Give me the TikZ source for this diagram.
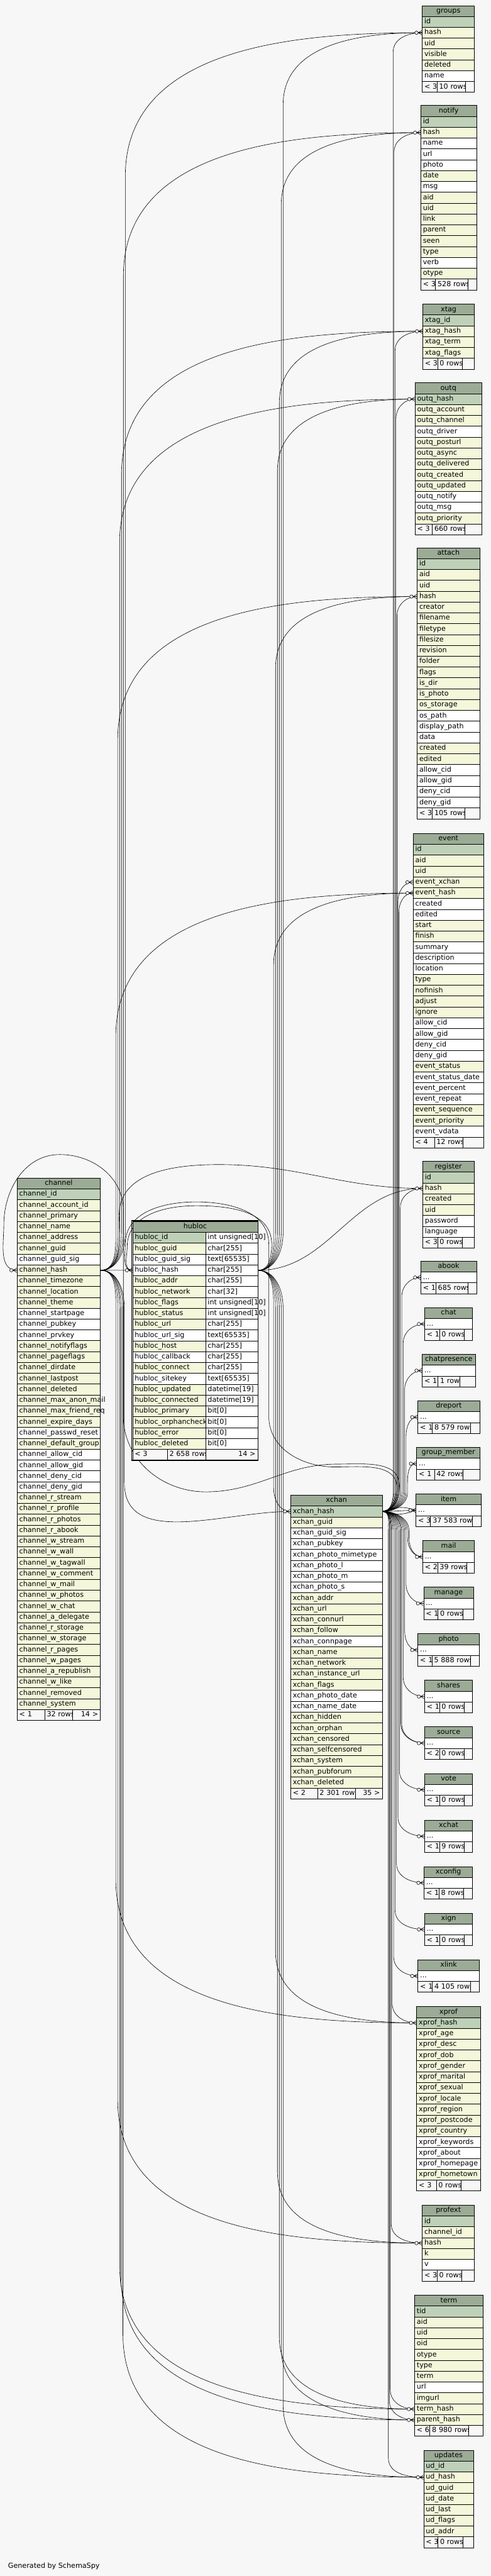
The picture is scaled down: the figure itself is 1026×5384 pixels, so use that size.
\documentclass[tikz,border=0pt]{standalone}
\usepackage{fontspec}
\setmainfont{DejaVu Sans}
\usetikzlibrary{calc,positioning}

\definecolor{bg}{HTML}{F7F7F7}
\definecolor{hdr}{HTML}{9BAB96}
\definecolor{pk}{HTML}{BED1B8}
\definecolor{ix}{HTML}{F4F7DA}
\colorlet{wh}{white}

\pgfdeclarelayer{canvas}
\pgfdeclarelayer{links}
\pgfsetlayers{canvas,links,main}

\newcommand{\cellfont}{\fontsize{11}{13}\selectfont}
\def\rowh{22.667}

% table: name, left, right, top, column/fill list
\newcommand{\dbtable}[5]{%
  \pgfmathsetmacro\tw{(#3-#2)*0.75-6.8}%
  \node[hdrcell, text width=\tw pt] (#1) at (#2,#4) {\detokenize{#1}};%
  \foreach \cn/\fc [count=\i] in {#5} {%
    \node[cell, fill=\fc, text width=\tw pt] (#1-\cn) at (#2,{#4+\i*\rowh})
      {\mbox{\expandafter\detokenize\expandafter{\cn}}};%
  }%
}
% footer: name, left, cut1, cut2, right, y, parents, rows, children
\newcommand{\dbfoot}[9]{%
  \pgfmathsetmacro\twa{(#3-#2)*0.75-6.8}%
  \pgfmathsetmacro\twb{(#4-#3)*0.75-6.8}%
  \pgfmathsetmacro\twc{(#5-#4)*0.75-6.8}%
  \node[footcell, text width=\twa pt] (#1-f1) at (#2,{#6}) {\mbox{#7}};%
  \node[footcell, text width=\twb pt] (#1-f2) at (#3,{#6}) {\mbox{#8}};%
  \node[footcell, text width=\twc pt, align=right] (#1-f3) at (#4,{#6}) {\mbox{#9}};%
}
% collapsed table: name, left, right, top, cut1, cut2, parents, rows
\newcommand{\smalltab}[8]{%
  \pgfmathsetmacro\tw{(#3-#2)*0.75-6.8}%
  \node[hdrcell, text width=\tw pt] (#1) at (#2,#4) {\detokenize{#1}};%
  \node[cell, fill=wh, text width=\tw pt] (#1-more) at (#2,{#4+\rowh}) {\mbox{...}};%
  \dbfoot{#1}{#2}{#5}{#6}{#3}{#4+2*\rowh}{#7}{#8}{}%
}
% links: parent, child, trunk x, turn, bend
\newcommand{\fkup}[5]{%
  \draw[fk] let \p1=(#1), \p2=(#2) in (#1) to[out=0,in=-90] ({#3*0.75pt},{\y1+#4*0.75pt})
    -- ({#3*0.75pt},{\y2-#5*0.75pt}) to[out=90,in=180] (#2);}
\newcommand{\fkdown}[5]{%
  \draw[fk] let \p1=(#1), \p2=(#2) in (#1) to[out=0,in=90] ({#3*0.75pt},{\y1-#4*0.75pt})
    -- ({#3*0.75pt},{\y2+#5*0.75pt}) to[out=-90,in=180] (#2);}

\begin{document}
\begin{tikzpicture}[
  x=0.75pt, y=-0.75pt,
  cell/.style={draw=black, line width=0.75pt, anchor=north west,
               inner xsep=3.4pt, inner ysep=0pt, minimum height=17pt,
               text height=8.2pt, text depth=2.6pt, align=left, font=\cellfont},
  hdrcell/.style={cell, fill=hdr, align=center},
  footcell/.style={cell, fill=bg},
  fk/.style={draw=black, line width=0.6pt},
  crowodot/.pic={
    \draw[fk] (-8,0) -- (0,-4.5) (-8,0) -- (0,0) (-8,0) -- (0,4.5);
    \draw[fk, fill=bg] (-11.5,0) circle[radius=3.5];
  },
]
\useasboundingbox (0,0) rectangle (1026,5384);
\begin{pgfonlayer}{canvas}
  \fill[bg] (0,0) rectangle (1026,5384);
\end{pgfonlayer}

% Focus table
\pgfmathsetmacro\twh{(538.3-276.7)*0.75-6.8}
\pgfmathsetmacro\twn{(429.3-276.7)*0.75-6.8}
\pgfmathsetmacro\twt{(538.3-429.3)*0.75-6.8}
\node[hdrcell, text width=\twh pt] (hubloc) at (276.7,2552.5) {hubloc};
\foreach \cn/\ty/\fc [count=\i] in {hubloc_id/int unsigned[10]/pk,
  hubloc_guid/char[255]/ix, hubloc_guid_sig/text[65535]/wh,
  hubloc_hash/char[255]/wh, hubloc_addr/char[255]/ix,
  hubloc_network/char[32]/ix, hubloc_flags/int unsigned[10]/ix,
  hubloc_status/int unsigned[10]/ix, hubloc_url/char[255]/ix,
  hubloc_url_sig/text[65535]/wh, hubloc_host/char[255]/ix,
  hubloc_callback/char[255]/wh, hubloc_connect/char[255]/ix,
  hubloc_sitekey/text[65535]/wh, hubloc_updated/datetime[19]/ix,
  hubloc_connected/datetime[19]/ix, hubloc_primary/bit[0]/ix,
  hubloc_orphancheck/bit[0]/ix, hubloc_error/bit[0]/ix,
  hubloc_deleted/bit[0]/ix} {
  \node[cell, fill=\fc, text width=\twn pt] (hubloc-\cn) at (276.7,{2552.5+\i*\rowh})
    {\mbox{\expandafter\detokenize\expandafter{\cn}}};
  \node[cell, fill=wh, text width=\twt pt] (hubloc-\cn-type) at (429.3,{2552.5+\i*\rowh})
    {\mbox{\ty}};
}
\dbfoot{hubloc}{276.7}{349.3}{429.3}{538.3}{2552.5+21*\rowh}{< 3}{2 658 rows}{14 >}
\draw[line width=1.5pt] (275.2,2551.0) rectangle (539.6,3052.4);

% Left and middle tables
\dbtable{channel}{35.3}{209.3}{2461.7}{channel_id/pk, channel_account_id/ix,
  channel_primary/ix, channel_name/ix, channel_address/ix, channel_guid/ix,
  channel_guid_sig/wh, channel_hash/ix, channel_timezone/ix, channel_location/ix,
  channel_theme/ix, channel_startpage/wh, channel_pubkey/wh, channel_prvkey/wh,
  channel_notifyflags/ix, channel_pageflags/ix, channel_dirdate/ix,
  channel_lastpost/ix, channel_deleted/ix, channel_max_anon_mail/ix,
  channel_max_friend_req/ix, channel_expire_days/ix, channel_passwd_reset/wh,
  channel_default_group/ix, channel_allow_cid/wh, channel_allow_gid/wh,
  channel_deny_cid/wh, channel_deny_gid/wh, channel_r_stream/ix,
  channel_r_profile/ix, channel_r_photos/ix, channel_r_abook/ix,
  channel_w_stream/ix, channel_w_wall/ix, channel_w_tagwall/ix,
  channel_w_comment/ix, channel_w_mail/ix, channel_w_photos/ix,
  channel_w_chat/ix, channel_a_delegate/ix, channel_r_storage/ix,
  channel_w_storage/ix, channel_r_pages/ix, channel_w_pages/ix,
  channel_a_republish/ix, channel_w_like/ix, channel_removed/ix,
  channel_system/ix}
\dbfoot{channel}{35.3}{93}{151}{209.3}{2461.7+49*\rowh}{< 1}{32 rows}{14 >}

\dbtable{xchan}{607.3}{798.7}{3124.5}{xchan_hash/pk, xchan_guid/ix,
  xchan_guid_sig/wh, xchan_pubkey/wh, xchan_photo_mimetype/wh,
  xchan_photo_l/wh, xchan_photo_m/wh, xchan_photo_s/wh, xchan_addr/ix,
  xchan_url/ix, xchan_connurl/ix, xchan_follow/ix, xchan_connpage/wh,
  xchan_name/ix, xchan_network/ix, xchan_instance_url/ix, xchan_flags/ix,
  xchan_photo_date/wh, xchan_name_date/wh, xchan_hidden/ix, xchan_orphan/ix,
  xchan_censored/ix, xchan_selfcensored/ix, xchan_system/ix,
  xchan_pubforum/ix, xchan_deleted/ix}
\dbfoot{xchan}{607.3}{663.3}{743.3}{798.7}{3124.5+27*\rowh}{< 2}{2 301 rows}{35 >}

% Right column
\dbtable{groups}{882.3}{991.7}{11.2}{id/pk, hash/ix, uid/ix, visible/ix,
  deleted/ix, name/wh}
\dbfoot{groups}{882.3}{913.3}{973.3}{991.7}{11.2+7*\rowh}{< 3}{10 rows}{}

\dbtable{notify}{879.3}{995.7}{220.0}{id/pk, hash/ix, name/wh, url/wh,
  photo/wh, date/ix, msg/wh, aid/ix, uid/ix, link/ix, parent/ix, seen/ix,
  type/ix, verb/wh, otype/ix}
\dbfoot{notify}{879.3}{910}{978.3}{995.7}{220.0+16*\rowh}{< 3}{528 rows}{}

\dbtable{xtag}{883.3}{991.7}{635.2}{xtag_id/pk, xtag_hash/ix, xtag_term/ix,
  xtag_flags/ix}
\dbfoot{xtag}{883.3}{914.3}{966.7}{991.7}{635.2+5*\rowh}{< 3}{0 rows}{}

\dbtable{outq}{867.3}{1006.7}{799.7}{outq_hash/pk, outq_account/ix,
  outq_channel/ix, outq_driver/wh, outq_posturl/ix, outq_async/ix,
  outq_delivered/ix, outq_created/ix, outq_updated/ix, outq_notify/wh,
  outq_msg/wh, outq_priority/ix}
\dbfoot{outq}{867.3}{903.3}{971.7}{1006.7}{799.7+13*\rowh}{< 3}{660 rows}{}

\dbtable{attach}{871.7}{1002.7}{1144.3}{id/pk, aid/ix, uid/ix, hash/ix,
  creator/ix, filename/ix, filetype/ix, filesize/ix, revision/ix, folder/ix,
  flags/ix, is_dir/ix, is_photo/ix, os_storage/ix, os_path/wh,
  display_path/wh, data/wh, created/ix, edited/ix, allow_cid/wh,
  allow_gid/wh, deny_cid/wh, deny_gid/wh}
\dbfoot{attach}{871.7}{903.3}{971.7}{1002.7}{1144.3+24*\rowh}{< 3}{105 rows}{}

\dbtable{event}{863.3}{1010.7}{1741.4}{id/pk, aid/ix, uid/ix, event_xchan/ix,
  event_hash/ix, created/wh, edited/wh, start/ix, finish/ix, summary/wh,
  description/wh, location/wh, type/ix, nofinish/ix, adjust/ix, ignore/ix,
  allow_cid/wh, allow_gid/wh, deny_cid/wh, deny_gid/wh, event_status/ix,
  event_status_date/wh, event_percent/wh, event_repeat/wh,
  event_sequence/ix, event_priority/ix, event_vdata/wh}
\dbfoot{event}{863.3}{907.7}{967.7}{1010.7}{1741.4+28*\rowh}{< 4}{12 rows}{}

\dbtable{register}{883.3}{990.7}{2426.7}{id/pk, hash/ix, created/ix, uid/ix,
  password/wh, language/wh}
\dbfoot{register}{883.3}{914.3}{966}{990.7}{2426.7+7*\rowh}{< 3}{0 rows}{}

\smalltab{abook}{879.3}{995.7}{2635.4}{910.7}{978.3}{< 1}{685 rows}
\smalltab{chat}{887.3}{987.7}{2732.7}{918.3}{970.7}{< 1}{0 rows}
\smalltab{chatpresence}{882.3}{993.3}{2830.1}{915.3}{961.3}{< 1}{1 row}
\smalltab{dreport}{873.3}{1002.7}{2927.4}{903.3}{983.7}{< 1}{8 579 rows}
\smalltab{group_member}{870.7}{1003.3}{3024.7}{907.7}{967.7}{< 1}{42 rows}
\smalltab{item}{869.3}{1005.7}{3122.1}{899.7}{987.3}{< 3}{37 583 rows}
\smalltab{mail}{883.3}{991.7}{3219.4}{914.3}{974.7}{< 2}{39 rows}
\smalltab{manage}{885.3}{989.3}{3316.7}{915.3}{967.7}{< 1}{0 rows}
\smalltab{photo}{873.3}{1001.7}{3414.1}{902.7}{983.7}{< 1}{5 888 rows}
\smalltab{shares}{887.3}{987.7}{3511.4}{918.3}{970.7}{< 1}{0 rows}
\smalltab{source}{887.3}{987.7}{3608.7}{918.3}{970.7}{< 2}{0 rows}
\smalltab{vote}{887.3}{987.7}{3706.1}{918.3}{970.7}{< 1}{0 rows}
\smalltab{xchat}{887.3}{987.7}{3803.4}{918.3}{970.7}{< 1}{9 rows}
\smalltab{xconfig}{886.3}{987.7}{3900.7}{917.3}{969.3}{< 1}{8 rows}
\smalltab{xign}{887.3}{987.7}{3998.1}{918.3}{970.7}{< 1}{0 rows}
\smalltab{xlink}{873.3}{1001.7}{4095.4}{903.3}{983.7}{< 1}{4 105 rows}

\dbtable{xprof}{870.7}{1003.7}{4193.4}{xprof_hash/pk, xprof_age/ix,
  xprof_desc/ix, xprof_dob/ix, xprof_gender/ix, xprof_marital/ix,
  xprof_sexual/ix, xprof_locale/ix, xprof_region/ix, xprof_postcode/ix,
  xprof_country/ix, xprof_keywords/wh, xprof_about/wh, xprof_homepage/wh,
  xprof_hometown/ix}
\dbfoot{xprof}{870.7}{911.7}{963.3}{1003.7}{4193.4+16*\rowh}{< 3}{0 rows}{}

\dbtable{profext}{882.3}{991.7}{4608.3}{id/pk, channel_id/ix, hash/ix, k/ix,
  v/wh}
\dbfoot{profext}{882.3}{913.3}{965}{991.7}{4608.3+6*\rowh}{< 3}{0 rows}{}

\dbtable{term}{866.3}{1009.7}{4796.6}{tid/pk, aid/ix, uid/ix, oid/ix,
  otype/ix, type/ix, term/ix, url/wh, imgurl/ix, term_hash/ix,
  parent_hash/ix}
\dbfoot{term}{866.3}{898.3}{978.7}{1009.7}{4796.6+12*\rowh}{< 6}{8 980 rows}{}

\dbtable{updates}{885.3}{989.3}{5120.4}{ud_id/pk, ud_hash/ix, ud_guid/ix,
  ud_date/ix, ud_last/ix, ud_flags/ix, ud_addr/ix}
\dbfoot{updates}{885.3}{915.3}{967.7}{989.3}{5120.4+8*\rowh}{< 3}{0 rows}{}

\node[anchor=base west, font=\cellfont, inner sep=0pt] (credit) at (16.7,5367)
  {Generated by SchemaSpy};

% Links
\def\PC{channel-channel_hash.east}
\def\PH{hubloc-hubloc_hash-type.east}
\def\PX{xchan-xchan_hash.east}
\begin{pgfonlayer}{links}
  % from channel_hash
  \draw[fk] (\PC) -- (hubloc-hubloc_hash.west);
  \fkdown{\PC}{xchan-xchan_hash.west}{260}{80}{60}
  \fkup{\PC}{groups-hash.west}{262}{80}{300}
  \fkup{\PC}{notify-hash.west}{258}{80}{300}
  \fkup{\PC}{xtag-xtag_hash.west}{254}{80}{300}
  \fkup{\PC}{outq-outq_hash.west}{250}{80}{300}
  \fkup{\PC}{attach-hash.west}{246}{80}{300}
  \fkup{\PC}{event-event_hash.west}{242}{80}{300}
  \draw[fk] (\PC) to[out=0,in=-90] (249,2540) to[out=90,in=180] (458,2434)
    to[out=0,in=180] (register-hash.west);
  \fkdown{\PC}{xprof-xprof_hash.west}{242}{80}{300}
  \fkdown{\PC}{profext-hash.west}{246}{80}{300}
  \fkdown{\PC}{term-term_hash.west}{250}{80}{300}
  \fkdown{\PC}{term-parent_hash.west}{253}{80}{300}
  \fkdown{\PC}{updates-ud_hash.west}{257}{80}{300}

  % from hubloc_hash
  \draw[fk] (\PH) to[out=0,in=-90] (568,2600) to[out=90,in=0] (410,2520)
    to[out=180,in=90] (266,2605) to[out=-90,in=180] (hubloc-hubloc_hash.west);
  \fkdown{\PH}{xchan-xchan_hash.west}{572}{80}{50}
  \fkup{\PH}{groups-hash.west}{592}{80}{150}
  \fkup{\PH}{notify-hash.west}{588}{80}{150}
  \fkup{\PH}{xtag-xtag_hash.west}{584}{80}{150}
  \fkup{\PH}{outq-outq_hash.west}{580}{80}{150}
  \fkup{\PH}{attach-hash.west}{576}{80}{150}
  \fkup{\PH}{event-event_hash.west}{572}{80}{150}
  \draw[fk] (\PH) to[out=0,in=180] (register-hash.west);
  \fkdown{\PH}{xprof-xprof_hash.west}{576}{80}{150}
  \fkdown{\PH}{profext-hash.west}{580}{80}{150}
  \fkdown{\PH}{term-term_hash.west}{584}{80}{150}
  \fkdown{\PH}{term-parent_hash.west}{588}{80}{150}
  \fkdown{\PH}{updates-ud_hash.west}{592}{80}{150}

  % from xchan_hash
  \draw[fk] (\PX) to[out=0,in=-90] (835,3105) to[out=90,in=0] (705,3060)
    to[out=180,in=0] (430,3118) to[out=180,in=-90] (258,2960) -- (258,2530)
    to[out=90,in=0] (125,2413) to[out=180,in=90] (8,2560)
    to[out=-90,in=180] (channel-channel_hash.west);
  \draw[fk] (\PX) to[out=0,in=-90] (830,3110) to[out=90,in=0] (700,3066)
    to[out=180,in=-90] (562,2960) -- (562,2600) to[out=90,in=0] (410,2512)
    to[out=180,in=90] (262,2600) to[out=-90,in=180] (hubloc-hubloc_hash.west);
  \fkup{\PX}{groups-hash.west}{822}{40}{40}
  \fkup{\PX}{notify-hash.west}{824}{40}{40}
  \fkup{\PX}{xtag-xtag_hash.west}{826}{40}{40}
  \fkup{\PX}{outq-outq_hash.west}{828}{40}{40}
  \fkup{\PX}{attach-hash.west}{830}{40}{40}
  \fkup{\PX}{event-event_xchan.west}{832}{40}{40}
  \fkup{\PX}{event-event_hash.west}{834}{40}{40}
  \fkup{\PX}{register-hash.west}{837}{40}{40}
  \fkup{\PX}{abook-more.west}{840}{40}{40}
  \fkup{\PX}{chat-more.west}{843}{40}{40}
  \fkup{\PX}{chatpresence-more.west}{846}{40}{40}
  \fkup{\PX}{dreport-more.west}{849}{40}{40}
  \fkup{\PX}{group_member-more.west}{852}{40}{40}
  \draw[fk] (\PX) to[out=0,in=180] (item-more.west);
  \draw[fk] (\PX) to[out=20,in=160] (item-more.west);
  \draw[fk] (\PX) to[out=-20,in=200] (item-more.west);
  \fkdown{\PX}{mail-more.west}{852}{40}{40}
  \fkdown{\PX}{mail-more.west}{855}{40}{40}
  \fkdown{\PX}{manage-more.west}{849}{40}{40}
  \fkdown{\PX}{photo-more.west}{846}{40}{40}
  \fkdown{\PX}{shares-more.west}{843}{40}{40}
  \fkdown{\PX}{source-more.west}{840}{40}{40}
  \fkdown{\PX}{source-more.west}{838}{40}{40}
  \fkdown{\PX}{vote-more.west}{835}{40}{40}
  \fkdown{\PX}{xchat-more.west}{832}{40}{40}
  \fkdown{\PX}{xconfig-more.west}{829}{40}{40}
  \fkdown{\PX}{xign-more.west}{826}{40}{40}
  \fkdown{\PX}{xlink-more.west}{823}{40}{40}
  \fkdown{\PX}{xprof-xprof_hash.west}{820}{40}{40}
  \fkdown{\PX}{profext-hash.west}{818}{40}{40}
  \fkdown{\PX}{term-term_hash.west}{816}{40}{40}
  \fkdown{\PX}{term-parent_hash.west}{814}{40}{40}
  \fkdown{\PX}{updates-ud_hash.west}{812}{40}{40}
\end{pgfonlayer}

% Child ends
\foreach \a in {groups-hash, notify-hash, xtag-xtag_hash, outq-outq_hash,
  attach-hash, event-event_xchan, event-event_hash, register-hash,
  abook-more, chat-more, chatpresence-more, dreport-more, group_member-more,
  item-more, mail-more, manage-more, photo-more, shares-more, source-more,
  vote-more, xchat-more, xconfig-more, xign-more, xlink-more,
  xprof-xprof_hash, profext-hash, term-term_hash, term-parent_hash,
  updates-ud_hash, hubloc-hubloc_hash, xchan-xchan_hash, channel-channel_hash}
  \pic at (\a.west) {crowodot};

\end{tikzpicture}
\end{document}
